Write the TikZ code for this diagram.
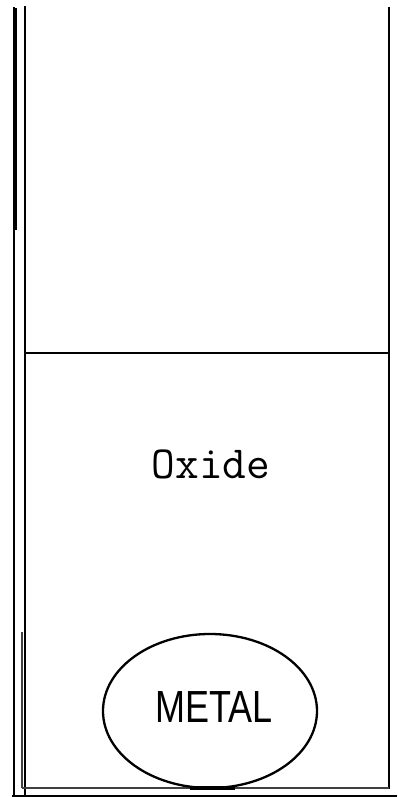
\documentclass[tikz,border=0pt]{standalone}
\usepackage{fontspec}
\newfontfamily\metalfont{Liberation Sans}
\usetikzlibrary{shapes.geometric}
\tikzset{
  wall/.style={line width=2.8pt},
  thinline/.style={line width=1.4pt, black!75},
  labeltt/.style={font=\ttfamily\fontsize{46}{46}\selectfont, inner sep=0pt},
  labelsf/.style={font=\metalfont\fontsize{45}{45}\selectfont, inner sep=0pt, xscale=0.8}
}
\begin{document}
\begin{tikzpicture}[x=1pt,y=-1pt]
\useasboundingbox (0,0) rectangle (397,797);
% left double walls
\draw[wall] (14,7) -- (14,797);
\fill (12.6,8) rectangle (17.4,230);
\draw[wall] (25,6) -- (25,797);
% right wall
\draw[wall] (389,7) -- (389,789);
% divider
\draw[wall] (25,353) -- (389,353);
% bottom lines
\draw[line width=2pt] (12,796) -- (397,796);
\draw[thinline] (22,788) -- (389,788);
\draw[thinline] (22,632) -- (22,788);
% oxide label
\node[labeltt] (oxide) at (211,464) {Oxide};
% metal ellipse
\node[draw, ellipse, line width=2.3pt, minimum width=214pt, minimum height=154pt, inner sep=0pt] (metal) at (210,711) {};
\node[labelsf] (metaltext) at (214,707) {METAL};
\fill (190,786) rectangle (235,789.5);
\end{tikzpicture}
\end{document}
